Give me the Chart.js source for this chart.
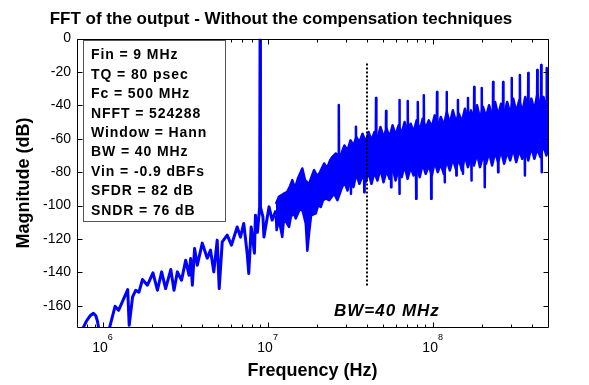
<!DOCTYPE html>
<html>
<head>
<meta charset="utf-8">
<script src="https://cdn.jsdelivr.net/npm/chart.js@4.4.1/dist/chart.umd.min.js"></script>
<style>
html, body { margin: 0; padding: 0; background: #fff; }
</style>
</head>
<body>
<canvas id="fft" width="589" height="385"></canvas>
<script>
// values: frequency in MHz, magnitude in dB

// low part of the spectrum, single line up to ~11 MHz (with the 9 MHz tone)
var lowFreq = [0.72, 0.76, 0.80, 0.84, 0.88, 0.91, 0.93, 0.95, 0.97, 1.07, 1.10, 1.19, 1.25, 1.42, 1.45, 1.52,
  1.59, 1.66, 1.745, 1.87, 2.02, 2.15, 2.28, 2.41, 2.59, 2.71, 2.84, 3.01, 3.19, 3.34, 3.42, 3.50,
  3.61, 3.75, 4.02, 4.31, 4.51, 4.72, 4.95, 5.09, 5.31, 5.69, 6.04, 6.54, 6.85, 7.17, 7.52, 7.69,
  7.95, 8.32, 8.44, 8.68, 8.95, 9.0, 9.05, 9.37, 9.5, 10.2, 10.66, 11.23];
var lowMag = [-178, -173.5, -169, -166, -164.5, -166, -169, -174, -180, -180, -173.5, -160.3, -162.7, -150.3, -171.7, -154.7,
  -150.7, -151.9, -144.3, -147.7, -140.3, -150.7, -139.7, -149.7, -138.3, -150.7, -139.7, -144.7, -132.7, -141.7, -131.7, -147.7,
  -125.7, -135.7, -122.5, -131.5, -126.7, -139.7, -120.7, -149.7, -121.7, -117.7, -123.7, -112.8, -118.9, -110.7, -128.7, -140.7,
  -112.8, -128.5, -105.8, -116, -101, -0.9, -101, -106.8, -118.8, -100.8, -108.7, -103];

// dense part: upper edge of the noise floor band
var topFreq = [11.23, 11.71, 12.39, 13.16, 13.67, 14.11, 14.66, 15.29, 16.23, 16.86, 17.83, 18.34, 19.12, 19.95, 20.80, 22.00,
  22.94, 23.93, 24.71, 25.92, 26.8,
  28, 29.2, 30.5, 31.8, 33.1, 34.5, 36.0, 37.6, 39.2, 40.9, 42.6, 44.4, 46.3, 48.3, 50.4, 52.6,
  54.8, 57.2, 59.6, 62.2, 64.9, 67.6, 70.5, 73.6, 76.7, 80.0, 83.5, 87.1, 90.8, 94.7, 98.8, 103,
  107.4, 112, 116.9, 121.9, 127.1, 132.6, 138.3, 144.2, 150.4, 156.9, 163.6, 170.7, 178, 185.7, 193.7, 202,
  210.7, 219.7, 229.2, 239, 249.3, 260, 271.2, 282.9, 295, 307.7, 321, 334.8, 349.2, 364.2, 379.8, 396.2,
  413.2, 431, 449.5, 468.9, 489, 500];
var topMag = [-99, -94.8, -93.2, -91.8, -88.4, -84.8, -89.6, -83.6, -77.8, -84.8, -87.2, -83.6, -78.8, -82.4, -80.0, -74.8,
  -77.6, -72.8, -70.8, -68.8, -70,
  -69, -64, -67, -61, -64, -59, -62, -57, -62, -56, -61, -56, -60, -53, -59, -54,
  -59, -52, -58, -52, -57, -50, -56, -51, -56, -49, -55, -48, -54, -49, -53, -46,
  -53, -47, -52, -44, -51, -43, -50, -45, -50, -42, -49, -43, -48, -40, -48, -41,
  -47, -40, -46, -38, -46, -39, -45, -38, -45, -36, -44, -37, -44, -35, -43, -36,
  -43, -33, -42, -35, -41, -38];

// lower edge of the band
var botFreq = [11.23, 11.34, 11.71, 12.27, 12.57, 13.48, 13.86, 14.45, 14.80, 15.87, 16.39, 17.03, 17.41, 17.83, 18.34, 19.58,
  20.23, 21.01, 21.69, 22.53, 23.60, 25.31, 26.50,
  28, 29.2, 30.5, 31.8, 33.1, 34.5, 36.0, 37.6, 39.2, 40.9, 42.6, 44.4, 46.3, 48.3, 50.4, 52.6,
  54.8, 57.2, 59.6, 62.2, 64.9, 67.6, 70.5, 73.6, 76.7, 80.0, 83.5, 87.1, 90.8, 94.7, 98.8, 103,
  107.4, 112, 116.9, 121.9, 127.1, 132.6, 138.3, 144.2, 150.4, 156.9, 163.6, 170.7, 178, 185.7, 193.7, 202,
  210.7, 219.7, 229.2, 239, 249.3, 260, 271.2, 282.9, 295, 307.7, 321, 334.8, 349.2, 364.2, 379.8, 396.2,
  413.2, 431, 449.5, 468.9, 489, 500];
var botMag = [-106, -114.7, -108.7, -118.8, -107.5, -112.8, -106.4, -104.7, -107.7, -100.8, -104.0, -110.7, -127.0, -116.5, -105.8, -104.7,
  -99.8, -100.8, -96.8, -95.7, -96.8, -92.8, -96.8,
  -90, -86, -91, -84, -89, -81, -87, -82, -86, -80, -87, -80, -85, -78, -86, -79,
  -84, -77, -85, -78, -83, -76, -84, -77, -82, -76, -83, -75, -81, -76, -82, -74,
  -80, -75, -81, -73, -79, -72, -78, -72, -79, -70, -77, -71, -76, -69, -77, -70,
  -75, -68, -76, -68, -74, -67, -75, -68, -73, -66, -74, -67, -72, -66, -73, -65,
  -72, -66, -71, -64, -70, -66];

// tall spurs above the band
var spurFreq = [26.87, 27.0, 27.14, 34.13, 34.3, 34.47, 45.16, 45.39, 45.62, 51.95, 52.21, 52.47,
  62.59, 62.9, 63.21, 70.30, 70.65, 71.00, 80.89, 81.3, 81.71, 87.96, 88.4, 88.84,
  105.8, 106.3, 106.8, 120.9, 121.5, 122.1, 141.6, 142.3, 143.0, 162.9, 163.7, 164.5,
  177.6, 178.5, 179.4, 197.4, 198.4, 199.4, 231.2, 232.4, 233.6, 266.0, 267.3, 268.6,
  299.3, 300.8, 302.3, 336.1, 337.8, 339.5, 377.6, 379.5, 381.4, 428.3, 430.5, 432.7,
  452.3, 454.6, 456.9, 487.6, 490.0, 492.4];
var spurMag = [-80, -39.8, -80, -76, -52.8, -76, -72, -35.6, -72, -70, -43.4, -70,
  -68, -36.8, -68, -67, -37.4, -67, -66, -38, -66, -65, -33.9, -65,
  -64, -32.1, -64, -63, -32.1, -63, -62, -36.8, -62, -61, -35.6, -61,
  -60, -29.1, -60, -59, -29.7, -59, -58, -26.1, -58, -57, -26.1, -57,
  -57, -23.7, -57, -56, -21.9, -56, -55, -20.7, -55, -55, -18.9, -55,
  -54, -15.9, -54, -54, -17.7, -54];

// deep notches below the band
var notchFreq = [31.82, 31.98, 32.14, 38.33, 38.52, 38.71, 55.72, 56.0, 56.28, 62.59, 62.9, 63.21,
  79.08, 79.48, 79.88, 97.57, 98.06, 98.55, 117.6, 118.2, 118.8, 138.5, 139.2, 139.9,
  151.9, 152.7, 153.5, 170.8, 171.7, 172.6, 205.9, 206.9, 207.9, 248.1, 249.3, 250.5,
  360.5, 362.3, 364.1, 454.9, 457.2, 459.5];
var notchMag = [-76, -93, -76, -74, -92, -74, -71, -89, -71, -70, -93, -70,
  -67, -96, -67, -66, -96, -66, -64, -86, -64, -63, -82, -63,
  -62, -81, -62, -61, -85, -61, -60, -89, -60, -58, -80, -58,
  -55, -82, -55, -54, -80, -54];

// dotted BW marker
var bwFreq = [40, 40];
var bwMag = [-15, -149];

var yTicks = [0, -20, -40, -60, -80, -100, -120, -140, -160];
var xTicks = [1, 10, 100];
var xTickExp = ['6', '7', '8'];
var xMinor = [0.8, 0.9, 2, 3, 4, 5, 6, 7, 8, 9, 20, 30, 40, 50, 60, 70, 80, 90, 200, 300, 400];

var infoLines = ['Fin = 9 MHz', 'TQ = 80 psec', 'Fc = 500 MHz', 'NFFT = 524288', 'Window = Hann',
  'BW = 40 MHz', 'Vin = -0.9 dBFs', 'SFDR = 82 dB', 'SNDR = 76 dB'];

var fam = '"Liberation Sans", Arial, Helvetica, sans-serif';

function pts(f, m) {
  return f.map(function (v, i) { return { x: v, y: m[i] }; });
}

var overlay = {
  id: 'overlay',
  afterDatasetsDraw: function (chart) {
    var ctx = chart.ctx, a = chart.chartArea, xs = chart.scales.x, ys = chart.scales.y;
    var l = Math.round(a.left) + 0.5, r = Math.round(a.right) + 0.5;
    var t = Math.round(a.top) + 0.5, b = Math.round(a.bottom) - 0.5;
    ctx.save();
    ctx.strokeStyle = '#000';
    ctx.lineWidth = 1;
    ctx.beginPath();
    ctx.rect(l, t, r - l, b - t);
    xTicks.forEach(function (v) {
      var px = Math.round(xs.getPixelForValue(v)) + 0.5;
      ctx.moveTo(px, b); ctx.lineTo(px, b - 5);
      ctx.moveTo(px, t); ctx.lineTo(px, t + 5);
    });
    xMinor.forEach(function (v) {
      var px = Math.round(xs.getPixelForValue(v)) + 0.5;
      ctx.moveTo(px, b); ctx.lineTo(px, b - 3);
      ctx.moveTo(px, t); ctx.lineTo(px, t + 3);
    });
    yTicks.forEach(function (v) {
      var py = Math.round(ys.getPixelForValue(v)) + 0.5;
      ctx.moveTo(l, py); ctx.lineTo(l + 5, py);
      ctx.moveTo(r, py); ctx.lineTo(r - 5, py);
    });
    ctx.stroke();

    // parameter box
    ctx.fillStyle = '#fff';
    ctx.fillRect(83, 40, 142, 182);
    ctx.strokeStyle = '#555';
    ctx.strokeRect(83.5, 40.5, 142, 181);
    ctx.fillStyle = '#000';
    ctx.font = 'bold 14px ' + fam;
    ctx.letterSpacing = '0.9px';
    ctx.textAlign = 'left';
    ctx.textBaseline = 'middle';
    infoLines.forEach(function (s, i) {
      ctx.fillText(s, 91, 55.5 + i * 19.4);
    });
    ctx.restore();
  },
  afterDraw: function (chart) {
    var ctx = chart.ctx, a = chart.chartArea, xs = chart.scales.x;
    ctx.save();
    ctx.fillStyle = '#000';
    ctx.textBaseline = 'alphabetic';

    ctx.font = 'bold 17px ' + fam;
    ctx.textAlign = 'center';
    ctx.fillText('FFT of the output - Without the compensation techniques', 281, 24);

    ctx.font = 'bold 18px ' + fam;
    ctx.fillText('Frequency (Hz)', (a.left + a.right) / 2, 376);

    ctx.save();
    ctx.translate(29, (a.top + a.bottom) / 2);
    ctx.rotate(-Math.PI / 2);
    ctx.fillText('Magnitude (dB)', 0, 0);
    ctx.restore();

    // decade labels 10^n
    ctx.textAlign = 'left';
    xTicks.forEach(function (v, i) {
      var px = xs.getPixelForValue(v);
      ctx.font = '14px ' + fam;
      var w1 = ctx.measureText('10').width;
      ctx.font = '9px ' + fam;
      var w2 = ctx.measureText(xTickExp[i]).width;
      var x0 = px - (w1 + w2) / 2;
      ctx.font = '14px ' + fam;
      ctx.fillText('10', x0, 352);
      ctx.font = '9px ' + fam;
      ctx.fillText(xTickExp[i], x0 + w1, 340);
    });

    ctx.font = 'italic bold 17px ' + fam;
    ctx.letterSpacing = '1px';
    ctx.fillText('BW=40 MHz', 334, 316);
    ctx.restore();
  }
};

var blue = '#0000ff';

new Chart(document.getElementById('fft'), {
  type: 'line',
  data: {
    datasets: [
      { data: pts(bwFreq, bwMag), borderColor: '#000', borderWidth: 2, borderDash: [2, 2], pointRadius: 0, fill: false },
      { data: pts(lowFreq, lowMag), borderColor: blue, borderWidth: 3, pointRadius: 0, fill: false, borderJoinStyle: 'round' },
      { data: pts(topFreq, topMag), borderColor: blue, backgroundColor: blue, borderWidth: 2.5, pointRadius: 0, fill: '+1', borderJoinStyle: 'round' },
      { data: pts(botFreq, botMag), borderColor: blue, borderWidth: 2.5, pointRadius: 0, fill: false, borderJoinStyle: 'round' },
      { data: pts(spurFreq, spurMag), borderColor: blue, borderWidth: 2.5, pointRadius: 0, fill: false, borderJoinStyle: 'round' },
      { data: pts(notchFreq, notchMag), borderColor: blue, borderWidth: 2.5, pointRadius: 0, fill: false, borderJoinStyle: 'round' }
    ]
  },
  options: {
    responsive: false,
    animation: false,
    layout: { padding: { left: 0, right: 41, top: 38.5, bottom: 0 } },
    elements: { line: { tension: 0 } },
    plugins: { legend: { display: false }, title: { display: false }, tooltip: { enabled: false } },
    scales: {
      x: {
        type: 'logarithmic', min: 0.71, max: 500,
        ticks: { display: false },
        grid: { display: false, drawTicks: false },
        border: { display: false },
        afterFit: function (s) { s.height = 57.5; }
      },
      y: {
        min: -173, max: 0,
        afterBuildTicks: function (s) { s.ticks = yTicks.map(function (v) { return { value: v }; }); },
        ticks: { color: '#000', font: { family: fam, size: 14 }, padding: 6 },
        grid: { display: false, drawTicks: false },
        border: { display: false },
        afterFit: function (s) { s.width = 77; }
      }
    }
  },
  plugins: [overlay]
});
</script>
</body>
</html>
